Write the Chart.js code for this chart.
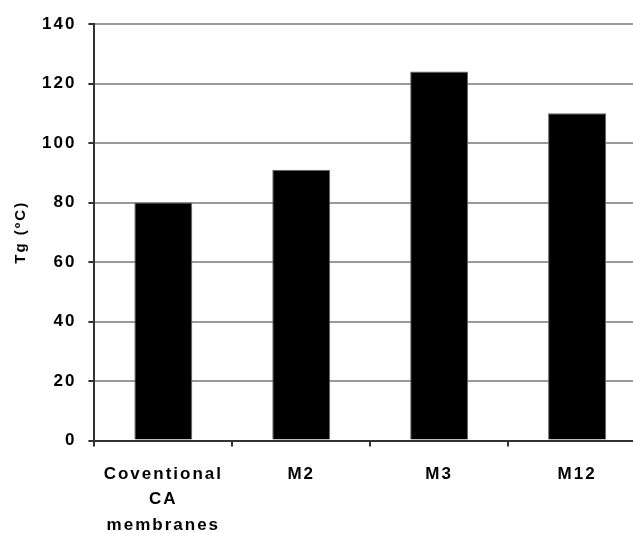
<!DOCTYPE html>
<html>
<head>
<meta charset="utf-8">
<script src="https://cdn.jsdelivr.net/npm/chart.js@4"></script>
<style>
  html, body { margin: 0; padding: 0; background: #fff; overflow: hidden; }
  #wrap { width: 660px; height: 533px; }
</style>
</head>
<body>
<div id="wrap"><canvas id="myChart" width="660" height="533"></canvas></div>
<script>
// Daten
const categories = [["Coventional", "CA", "membranes"], "M2", "M3", "M12"]
const tgValues = [80, 91, 124, 110]
const yTicks = [0, 20, 40, 60, 80, 100, 120, 140]

Chart.defaults.font.family = "'Liberation Sans', Arial, sans-serif"
Chart.defaults.color = '#000'

// breitere Schrift wie im Original
const spacingPlugin = {
    id: 'spacing',
    beforeDraw(chart) { chart.ctx.letterSpacing = '2px' }
}

const ctx = document.getElementById('myChart')
const chart = new Chart(ctx, {
    type: 'bar',
    data: {
        labels: categories,
        datasets: [{
            data: tgValues,
            backgroundColor: '#000',
            borderColor: '#666',
            borderWidth: 1,
            categoryPercentage: 1,
            barPercentage: 0.42
        }]
    },
    options: {
        responsive: false,
        animation: false,
        layout: { padding: { top: 24, right: 14, bottom: -20, left: 6 } },
        plugins: { legend: { display: false }, tooltip: { enabled: false } },
        scales: {
            x: {
                grid: { offset: true, drawOnChartArea: false, tickLength: 6, color: '#333', lineWidth: 2 },
                border: { color: '#333', width: 2 },
                ticks: { font: { size: 17, weight: 'bold', lineHeight: 1.5 }, padding: 15, maxRotation: 0 }
            },
            y: {
                min: 0,
                max: 140,
                afterBuildTicks: axis => { axis.ticks = yTicks.map(v => ({ value: v })) },
                grid: { color: '#999', lineWidth: 2, tickLength: 6, tickColor: '#333' },
                border: { color: '#333', width: 2 },
                ticks: { font: { size: 17, weight: 'bold' }, padding: 12 },
                title: { display: true, text: 'Tg (ºC)', font: { size: 15, weight: 'bold' }, padding: { top: 6, bottom: 6 } }
            }
        }
    },
    plugins: [spacingPlugin]
})
</script>
</body>
</html>
